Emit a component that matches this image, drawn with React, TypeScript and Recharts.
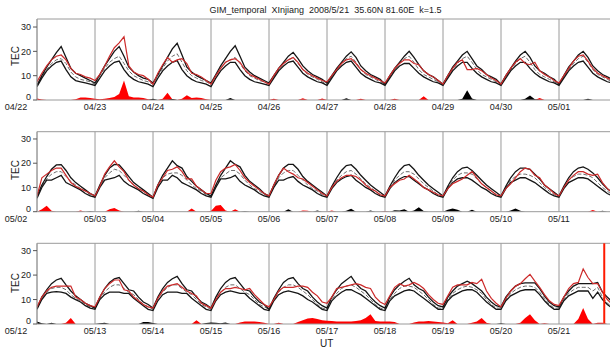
import React from 'react';
import { ComposedChart, Line, Area, XAxis, YAxis, CartesianGrid, ReferenceLine } from 'recharts';

const titleText = 'GIM_temporal  XInjiang  2008/5/21  35.60N 81.60E  k=1.5';
const yLabel = 'TEC';
const xLabel = 'UT';
const yTicks = [0, 10, 20, 30];
const dayTicks = [0, 1, 2, 3, 4, 5, 6, 7, 8, 9];
const eventDay = 9.78;

const days1 = ['04/22', '04/23', '04/24', '04/25', '04/26', '04/27', '04/28', '04/29', '04/30', '05/01'];
const days2 = ['05/02', '05/03', '05/04', '05/05', '05/06', '05/07', '05/08', '05/09', '05/10', '05/11'];
const days3 = ['05/12', '05/13', '05/14', '05/15', '05/16', '05/17', '05/18', '05/19', '05/20', '05/21'];

// ---------- Panel 1 (2-hourly values) ----------
const p1Upper = [
  6, 10, 13.5, 16.5, 19.5, 22, 17.5, 13, 11, 10, 9, 8,
  7, 10.5, 14, 17, 20, 22, 18, 13.5, 11.5, 10, 9, 8.5,
  7, 10.5, 14, 17.5, 21, 23.3, 18.5, 13.5, 11.5, 10, 9, 8,
  7, 10.5, 14, 17, 20, 22.3, 18, 13.5, 11.5, 10, 9, 8,
  7, 10, 13, 15.5, 18, 19.6, 17, 14, 12, 10.5, 9.5, 8.5,
  7, 10, 13, 15.5, 18, 19.8, 17.5, 14, 12, 10.5, 9.5, 8.5,
  6.5, 10, 13, 15.5, 18, 20, 17.5, 14.5, 12, 10.5, 9.5, 8,
  6.5, 10, 13.5, 16, 18.5, 20, 17, 14, 12.5, 10.5, 9.5, 8.5,
  6.5, 10, 13, 16, 18.5, 20, 17.5, 14, 12, 11, 9.5, 8.5,
  6.5, 10, 13.5, 16, 18.5, 20, 17.5, 14, 12, 10.5, 9.5, 8.5,
  7,
];
const p1Lower = [
  5.5, 9, 12, 14, 15.5, 16, 12.5, 9.5, 8, 7.5, 7, 6.5,
  6, 9, 12, 14, 15.5, 16, 12.5, 10, 8.5, 7.5, 7, 6.5,
  5.5, 9, 12, 14, 15.5, 16.2, 12.5, 10, 8.5, 7.5, 7, 6.5,
  5.5, 9, 12, 14, 15.5, 15.5, 12.5, 10, 8.5, 7.5, 7, 6.5,
  6, 9, 12, 14, 15.5, 16, 13.5, 11, 9.5, 8.5, 7.5, 7,
  6, 9, 12, 14, 15.5, 16, 13.5, 11, 9.5, 8.5, 7.5, 7,
  6, 9, 12, 14, 15, 15, 13, 11, 9.5, 8.5, 7.5, 7,
  6, 9, 12, 14, 15.5, 15.5, 13, 11, 9.5, 8.5, 7.5, 7,
  6, 9, 12, 14, 15.5, 15.5, 13, 11, 9.5, 8.5, 7.5, 7,
  6, 9, 12, 14, 15.5, 16, 13.5, 11, 9.5, 8.5, 7.5, 7,
  6,
];
const p1Median = [
  6, 9.5, 12.5, 15, 16.5, 17, 15, 11.5, 9.5, 8.5, 8, 7.5,
  6.5, 10, 13, 15.5, 17, 18, 15, 12, 10, 9, 8, 7.5,
  6.5, 10, 13, 16, 18, 19, 15.5, 12, 10, 9, 8, 7.5,
  6.5, 10, 13, 15.5, 16.5, 17.5, 15, 12, 10, 9, 8, 7.5,
  6.5, 9.5, 12.5, 15, 16.5, 17.5, 15, 12.5, 10.5, 9.5, 8.5, 7.5,
  6.5, 9.5, 12.5, 15, 17, 18, 15.5, 12.5, 10.5, 9.5, 8.5, 7.5,
  6.5, 9.5, 12.5, 15, 17, 18, 15.5, 12.5, 10.5, 9.5, 8.5, 7.5,
  6.5, 9.5, 12.5, 15, 17, 18, 15.5, 12.5, 10.5, 9.5, 8.5, 7.5,
  6.5, 9.5, 12.5, 15, 17, 18, 15.5, 12.5, 10.5, 9.5, 8.5, 7.5,
  6.5, 9.5, 12.5, 15, 17, 18, 15.5, 12.5, 10.5, 9.5, 8.5, 7.5,
  6.5,
];
const p1Obs = [
  7.5, 11, 14, 16.5, 18, 18.5, 16.5, 13, 11, 10.5, 9.5, 9,
  8, 10.5, 14, 18, 21.5, 23.5, 26, 14, 11.5, 10.5, 10, 8.5,
  6.5, 11, 14.5, 17.5, 15.5, 16.5, 17, 15, 11, 10.5, 9.5, 8,
  6.5, 10, 13, 15.5, 16.5, 17, 15.5, 12.5, 10.5, 9.5, 8.5, 7.5,
  6.5, 10, 13, 15, 16.5, 17.5, 15.5, 12.5, 11, 10, 9, 8,
  7.5, 10, 12.5, 15, 16.5, 17, 15, 12.5, 11, 10, 9, 8,
  7, 10, 13, 15, 16.5, 16.5, 15, 14.5, 12, 10.5, 9.5, 8,
  6.5, 10, 13, 15.5, 16.5, 12.5, 12.5, 13, 12, 10.5, 9, 8,
  6.5, 10, 13, 15.5, 17, 15, 14.5, 15.5, 12, 10.5, 9.5, 8,
  7, 10, 13, 16, 18, 18.5, 16, 13, 11, 10, 9, 8,
  7,
];
const p1RedAnom: [number, number][] = [
  [0, 0.6], [1, 0.2], [8, 0.3], [9, 1], [10, 1], [11, 0.8], [12, 0.5], [13, 0.3], [14, 0.5], [15, 0.8],
  [16, 1.2], [17, 2.5], [18, 8], [19, 1.5], [20, 1], [21, 1], [22, 0.8], [23, 0.3], [26, 0.5], [27, 3],
  [28, 0.3], [30, 0.5], [31, 2], [32, 0.8], [33, 1], [34, 0.8], [35, 0.3], [49, 0.5], [55, 0.7], [59, 0.6],
  [67, 0.5], [74, 0.5], [80, 1.5], [104, 0.8],
];
const p1BlackAnom: [number, number][] = [
  [24, 0.5], [28, 0.4], [40, 0.8], [64, 0.7], [88, 0.5], [89, 4], [90, 0.6], [101, 0.5], [102, 1.8], [103, 0.3], [114, 0.5],
];

// ---------- Panel 2 ----------
const p2Upper = [
  6.5, 11, 14.5, 17.5, 19.3, 19.4, 17, 14, 12, 10.5, 9, 7.5,
  6.5, 11, 15, 18, 19.5, 19.3, 17, 14.5, 12, 10.5, 9, 7.5,
  6, 11, 15, 18, 21, 19, 18, 14.5, 12.5, 10.5, 9, 7.5,
  6.5, 11, 15, 18, 21, 19.5, 18.5, 15, 12.5, 11, 9.5, 7.5,
  6.5, 11, 15, 18, 19.5, 19.5, 17.5, 14.5, 12.5, 11, 9.5, 8,
  6.5, 10.5, 14, 17, 19, 19.4, 17.5, 15, 13, 11, 9.5, 8,
  6.5, 10.5, 14, 17, 19, 19.5, 17.5, 15, 13, 11, 9.5, 8,
  6.5, 10.5, 14, 16.5, 18, 18.4, 17, 15, 13, 11, 9.5, 8,
  6.5, 10.5, 14, 16.5, 18, 18, 17.5, 15.5, 13.5, 11, 9.5, 8,
  6.5, 10.5, 14, 16.5, 18, 18.5, 17.5, 16, 14, 11.5, 9.5, 8,
  6.5,
];
const p2Lower = [
  5.5, 10, 13, 13, 14, 15, 12, 11, 10, 9, 7.5, 6.5,
  6, 10, 13, 13.5, 14, 15, 12.5, 11, 10, 9, 7.5, 6.5,
  5.5, 10, 13, 13, 15, 14, 12, 11, 10, 9, 7.5, 6.5,
  6, 10, 13.5, 13.5, 14, 15, 12.5, 11, 10, 9, 7.5, 6.5,
  6, 10, 13, 13, 14, 14.5, 12.5, 11, 10, 9, 7.5, 6.5,
  6, 9.5, 12, 13.5, 14.5, 15, 13, 11.5, 10, 9, 7.5, 6.5,
  6, 9.5, 12, 13.5, 14.5, 14.5, 13, 11.5, 10, 9, 7.5, 6.5,
  6, 9.5, 12, 13.5, 14, 14, 13, 11.5, 10, 9, 7.5, 6.5,
  6, 9.5, 12, 13, 14, 14, 13, 12, 10.5, 9, 7.5, 6.5,
  6, 9.5, 12, 13, 14, 14, 13.5, 12, 10.5, 9, 7.5, 6.5,
  6,
];
const p2Median = [
  6, 10.5, 13.5, 15.5, 16.5, 16.5, 14.5, 12.5, 11, 9.5, 8.5, 7,
  6, 10.5, 14, 16, 17.5, 17, 15, 13, 11, 9.5, 8.5, 7,
  6, 10.5, 14, 15.5, 16, 16, 15, 13, 11, 9.5, 8.5, 7,
  6.5, 10.5, 14, 15.5, 17, 17, 15.5, 13, 11, 9.5, 8.5, 7,
  6.5, 10.5, 14, 16, 17, 17, 15, 13, 11, 9.5, 8.5, 7,
  6.5, 10, 13, 15, 16.5, 17, 15.5, 13.5, 11.5, 10, 8.5, 7,
  6.5, 10, 13, 15, 16.5, 16.5, 15.5, 13.5, 11.5, 10, 8.5, 7,
  6.5, 10, 13, 15, 16, 16, 15.5, 13.5, 11.5, 10, 8.5, 7,
  6.5, 10, 13, 14.5, 15.5, 15.5, 15, 14, 12, 10, 8.5, 7,
  6.5, 10, 13, 14.5, 15.5, 15.5, 15, 14, 12, 10, 8.5, 7,
  6.5,
];
const p2Obs = [
  6.5, 14, 15.5, 17, 18, 18, 15, 12, 10.5, 9.5, 8.5, 7.5,
  6.5, 10.5, 15.5, 18.5, 21, 18.5, 16.5, 13, 11, 9.5, 8.5, 7,
  6, 11, 14, 17, 17.5, 18.5, 16.5, 13.5, 13.5, 10.5, 9, 7.5,
  7.5, 13, 16.5, 18, 18.5, 19.5, 17, 14, 12, 10.5, 9, 7.5,
  6.5, 11, 15, 18, 16.5, 15.5, 14, 13.5, 12, 10.5, 9, 7.5,
  6.5, 10, 12.5, 14, 15, 15, 14.5, 13, 11, 9.5, 8.5, 7,
  6.5, 10, 11.5, 13, 13.5, 15, 13.5, 12, 10, 9, 8, 7,
  6.5, 9.5, 11.5, 12.5, 13.5, 15, 16.5, 14, 11.5, 10, 8.5, 7,
  6.5, 9.5, 11.5, 14, 16.5, 18, 17.5, 15, 14, 11, 9.5, 7.5,
  6.5, 10, 13, 15, 16.5, 16.5, 15.5, 15, 15.5, 12, 9.5, 8,
  6.5,
];
const p2RedAnom: [number, number][] = [
  [1, 1], [2, 2.5], [3, 0.4], [9, 0.5], [15, 1], [16, 1.5], [17, 0.5], [32, 1.3], [36, 0.3], [37, 2.5],
  [38, 2.8], [39, 0.5], [41, 1], [55, 0.5], [56, 0.4], [61, 0.5], [72, 0.3], [115, 0.7],
];
const p2BlackAnom: [number, number][] = [
  [11, 0.3], [21, 0.4], [43, 0.3], [52, 1], [58, 0.5], [64, 0.4], [65, 1.2], [69, 0.5], [74, 0.6], [75, 0.5],
  [76, 1], [78, 0.5], [79, 1.8], [80, 0.3], [85, 0.8], [86, 1.3], [87, 0.8], [90, 0.8], [98, 0.5], [99, 1.3],
  [100, 0.4], [117, 0.4],
];

// ---------- Panel 3 ----------
const p3Upper = [
  6.5, 11, 14, 16.5, 18, 18.7, 16, 13.5, 11.5, 10, 8.5, 7.5,
  6.5, 11, 14.5, 17, 18.5, 19, 16.5, 14, 13.5, 11, 9, 8,
  6.5, 11, 14.5, 17, 18.5, 19.5, 16.5, 14, 13.5, 11, 9, 8,
  6.5, 11, 14.5, 17, 18.5, 19, 16.5, 14, 13.5, 11, 9, 8,
  6, 10.5, 14, 17, 18.5, 19, 16.5, 14.5, 13.5, 11, 9, 7.5,
  6.5, 11, 14, 16.5, 18, 19.5, 16.5, 14.5, 13.5, 11, 9, 7.5,
  6.5, 11, 14, 16, 17.5, 18.7, 16, 14.5, 13.5, 11, 9, 7.5,
  7, 11, 13.5, 15.5, 16.5, 17.5, 16.5, 15, 13.5, 11, 9, 7.5,
  7, 11, 13.5, 15.5, 16.5, 16.8, 16.8, 16.8, 14.5, 11.5, 9, 7.5,
  7, 11, 13.5, 15.5, 16.5, 16.5, 16.5, 16.5, 17, 13, 11, 9,
  7.5,
];
const p3Lower = [
  6, 10, 12.5, 13, 13.2, 13, 12.5, 11, 10, 9, 7.5, 6.5,
  6, 10, 12, 13, 13, 13, 12.5, 12.5, 10.5, 9, 7.5, 6,
  5.5, 9.5, 12, 13, 13, 13, 12.5, 12.5, 10.5, 9, 7.5, 6,
  5.5, 9.5, 12, 13, 13.5, 13, 12.5, 12.5, 10.5, 9, 7.5, 6,
  5.5, 9.5, 12, 13, 13.5, 13, 12.5, 11.5, 10, 9, 7.5, 6,
  5.5, 9.5, 11.5, 13, 14, 14, 13, 12, 10.5, 9, 7.5, 6,
  5.5, 9.5, 11.5, 12.5, 13.5, 14, 13.5, 12, 10.5, 9, 7.5, 6,
  6, 9.5, 11.5, 12.5, 13.5, 14, 14, 13, 11, 9, 7.5, 6,
  6, 9.5, 11.5, 12.5, 13.5, 14, 14, 14, 12, 9.5, 7.5, 6,
  6, 9.5, 11.5, 12.5, 13.5, 13.5, 13.5, 10.5, 13, 10, 8, 6.5,
  6,
];
const p3Median = [
  6.5, 10.5, 13, 14.5, 15, 15, 14, 12, 10.5, 9.5, 8, 7,
  6.5, 10.5, 13, 15, 16, 16, 14.5, 13, 12, 10, 8, 7,
  6, 10.5, 13, 15, 16, 16, 14.5, 13, 12, 10, 8, 7,
  6, 10.5, 13, 15, 16, 16, 14.5, 13, 12, 10, 8, 7,
  6, 10, 13, 15, 16, 16, 15, 13.5, 12, 10, 8, 6.5,
  6, 10, 12.5, 14.5, 15.5, 16, 15, 13.5, 12, 10, 8, 6.5,
  6, 10, 12.5, 14.5, 15.5, 15.5, 15, 13.5, 12, 10, 8, 6.5,
  6.5, 10, 12.5, 14, 15, 15.5, 15, 14, 12.5, 10, 8, 6.5,
  6.5, 10, 12.5, 14, 15, 15.5, 15.5, 15, 13, 10.5, 8, 6.5,
  6.5, 10, 12.5, 14, 15, 15, 15, 13.5, 15, 11, 8.5, 7,
  6.5,
];
const p3Obs = [
  7, 11, 13.5, 15, 15.5, 15.5, 15.5, 15.5, 11, 10, 8.5, 7.5,
  7, 11, 14.5, 16.5, 18, 18, 14, 13.5, 11, 9.5, 8, 7,
  6.5, 10.5, 13.5, 15.5, 16, 16.5, 15, 13.5, 12.5, 11.5, 8.5, 7.5,
  6.5, 10, 13, 14.5, 14.5, 15, 14.5, 14, 14.5, 12, 10, 8,
  7, 10, 13.5, 15, 15, 15, 15.5, 15.5, 15, 13, 11.5, 9,
  8.5, 11, 14.5, 15, 15.5, 16, 16.5, 16, 15, 14.5, 11, 9,
  8, 11.5, 15, 16.5, 15.5, 16, 17, 16, 14.5, 12, 10, 8.5,
  8, 11.5, 15, 16, 16, 16, 17, 16.5, 18.3, 13.5, 10.5, 8.5,
  7, 10.5, 13.5, 15.5, 16.5, 18.5, 20.3, 17.5, 15, 12, 9.5, 8,
  7.5, 11, 14.5, 16.5, 17, 22.5, 19, 16.5, 16.5, 13, 10, 8,
  7,
];
const p3RedAnom: [number, number][] = [
  [6, 0.5], [7, 2.5], [33, 1.5], [42, 0.6], [43, 1], [44, 1], [45, 1], [46, 0.8], [47, 0.5], [50, 0.5],
  [54, 0.8], [55, 1.5], [56, 2.3], [57, 2.5], [58, 2], [59, 1.5], [60, 1.3], [61, 1.2], [62, 1], [63, 1],
  [64, 1], [65, 1], [66, 1.2], [67, 1.5], [68, 2.5], [69, 4], [70, 1.2], [71, 1], [72, 1], [73, 1],
  [74, 0.8], [78, 0.6], [79, 1], [80, 1], [81, 1.2], [82, 1], [83, 0.8], [84, 0.6], [85, 0.3], [86, 1.5],
  [90, 0.5], [91, 1], [92, 2.5], [93, 0.5], [100, 0.5], [101, 2.5], [102, 4], [103, 1.5], [105, 0.3],
  [112, 2], [113, 6.5], [114, 2], [116, 0.5], [117, 0.5],
];
const p3BlackAnom: [number, number][] = [
  [0, 1], [1, 0.3], [3, 0.5], [13, 0.3], [14, 0.5], [22, 0.8], [23, 0.8], [24, 0.4], [35, 0.4], [36, 0.6],
  [37, 0.5], [38, 0.3], [39, 0.6], [96, 0.3],
];

const STEPS_PER_DAY = 12;

function buildRows(
  up: number[], lo: number[], med: number[], obs: number[],
  redA: [number, number][], blackA: [number, number][]
) {
  const red = up.map(() => 0);
  const black = up.map(() => 0);
  redA.forEach(([i, v]) => { red[i] = v; });
  blackA.forEach(([i, v]) => { black[i] = v; });
  return up.map((u, i) => ({
    t: i / STEPS_PER_DAY, up: u, lo: lo[i], med: med[i], obs: obs[i], ra: red[i], ba: black[i],
  }));
}

const rows1 = buildRows(p1Upper, p1Lower, p1Median, p1Obs, p1RedAnom, p1BlackAnom);
const rows2 = buildRows(p2Upper, p2Lower, p2Median, p2Obs, p2RedAnom, p2BlackAnom);
const rows3 = buildRows(p3Upper, p3Lower, p3Median, p3Obs, p3RedAnom, p3BlackAnom);

const FONT = '"Liberation Sans", Arial, Helvetica, sans-serif';
const FRAME = '#9a9a9a';
const TICK_COLOR = '#222';

function makeXTick(labels: string[]) {
  return function XTick(props: any) {
    const { x, y, payload } = props;
    const v = payload.value as number;
    const shift = v === 0 ? -21 : 0;
    return (
      <text x={x + shift} y={y} dy="0.71em" textAnchor="middle" fontSize={9} fill={TICK_COLOR} fontFamily={FONT}>
        {labels[v] ?? ''}
      </text>
    );
  };
}

function YTick(props: any) {
  const { x, y, payload } = props;
  const v = payload.value as number;
  const shift = v === 0 ? -3 : 0;
  return (
    <text x={x} y={y + shift} dy="0.355em" textAnchor="end" fontSize={9} fill={TICK_COLOR} fontFamily={FONT}>
      {v}
    </text>
  );
}

type PanelProps = {
  rows: ReturnType<typeof buildRows>;
  labels: string[];
  top: number;
  marginTop: number;
  plotHeight: number;
  yMax: number;
  event?: number;
};

function Panel({ rows, labels, top, marginTop, plotHeight, yMax, event }: PanelProps) {
  const xAxisH = 20;
  const height = marginTop + plotHeight + xAxisH;
  const XTick = makeXTick(labels);
  return (
    <div style={{ position: 'absolute', left: 0, top }}>
      <ComposedChart
        width={625}
        height={height}
        data={rows}
        margin={{ top: marginTop, right: 8, bottom: 0, left: 0 }}
      >
        <CartesianGrid horizontal={false} vertical stroke={FRAME} strokeWidth={1} />
        <XAxis
          dataKey="t"
          type="number"
          domain={[0, 10]}
          ticks={dayTicks}
          allowDataOverflow
          interval={0}
          height={xAxisH}
          tickLine={false}
          tickSize={0}
          tickMargin={4}
          axisLine={{ stroke: FRAME }}
          tick={XTick}
        />
        <YAxis
          type="number"
          domain={[0, yMax]}
          ticks={yTicks}
          allowDataOverflow
          width={37}
          tickSize={4}
          tickMargin={2}
          axisLine={{ stroke: FRAME }}
          tickLine={{ stroke: '#555' }}
          tick={YTick}
        />
        <ReferenceLine y={yMax} stroke={FRAME} strokeWidth={1} ifOverflow="extendDomain" />
        <Area type="linear" dataKey="ra" stroke="none" fill="#ff0000" fillOpacity={1} isAnimationActive={false} />
        <Area type="linear" dataKey="ba" stroke="none" fill="#000000" fillOpacity={1} isAnimationActive={false} />
        <Line type="linear" dataKey="med" stroke="#6a6a6a" strokeWidth={1} strokeDasharray="4 2" dot={false} isAnimationActive={false} />
        <Line type="linear" dataKey="lo" stroke="#151515" strokeWidth={1.3} dot={false} isAnimationActive={false} />
        <Line type="linear" dataKey="up" stroke="#151515" strokeWidth={1.3} dot={false} isAnimationActive={false} />
        <Line type="linear" dataKey="obs" stroke="#cc2a2a" strokeWidth={1.2} dot={false} isAnimationActive={false} />
        {event !== undefined && (
          <ReferenceLine x={event} stroke="#ff1a00" strokeWidth={2} />
        )}
      </ComposedChart>
    </div>
  );
}

const tecStyle = (yc: number): React.CSSProperties => ({
  position: 'absolute',
  left: 15,
  top: yc,
  transform: 'translate(-50%, -50%) rotate(-90deg)',
  fontFamily: FONT,
  fontSize: 10,
  color: TICK_COLOR,
  whiteSpace: 'nowrap',
});

export default function App() {
  return (
    <div
      style={{
        position: 'absolute',
        left: 0,
        top: 0,
        width: 610,
        height: 348,
        overflow: 'hidden',
        background: '#fff',
      }}
    >
      <Panel rows={rows1} labels={days1} top={0} marginTop={19} plotHeight={81} yMax={33.3} />
      <Panel rows={rows2} labels={days2} top={112} marginTop={19.7} plotHeight={80} yMax={33} />
      <Panel rows={rows3} labels={days3} top={224} marginTop={19.3} plotHeight={80.7} yMax={33} event={eventDay} />
      <div
        style={{
          position: 'absolute',
          left: 325.5,
          top: 10,
          transform: 'translate(-50%, -50%)',
          fontFamily: FONT,
          fontSize: 9,
          color: TICK_COLOR,
          whiteSpace: 'pre',
        }}
      >
        {titleText}
      </div>
      <div style={tecStyle(56)}>{yLabel}</div>
      <div style={tecStyle(170)}>{yLabel}</div>
      <div style={tecStyle(283)}>{yLabel}</div>
      <div
        style={{
          position: 'absolute',
          left: 326.7,
          top: 342.5,
          transform: 'translate(-50%, -50%)',
          fontFamily: FONT,
          fontSize: 10,
          color: TICK_COLOR,
        }}
      >
        {xLabel}
      </div>
    </div>
  );
}
